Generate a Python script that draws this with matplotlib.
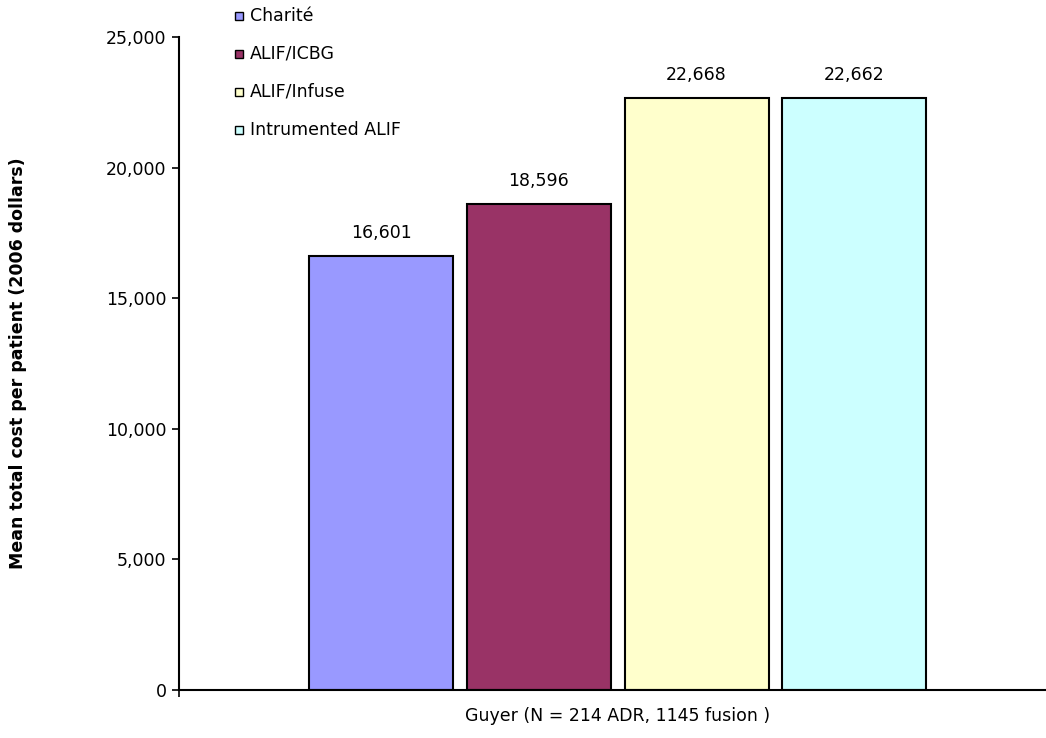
import numpy as np
import matplotlib
matplotlib.use("Agg")
import matplotlib.pyplot as plt
from matplotlib.patches import Rectangle
from matplotlib.ticker import FuncFormatter

plt.rcParams['font.family'] = ['DejaVu Sans']

series = ["Charité", "ALIF/ICBG", "ALIF/Infuse", "Intrumented ALIF"]
costs = [16601, 18596, 22668, 22662]
category = "Guyer (N = 214 ADR, 1145 fusion )"
colors_ = ["#9999FF", "#993366", "#FFFFCC", "#CCFFFF"]
y_ticks = [0, 5000, 10000, 15000, 20000, 25000]

W, H = 1046, 738
FS = 12.5


def px(x, y):
    # pixel position (from top-left) -> figure fraction
    return x / W, 1 - y / H


fig = plt.figure(figsize=(W / 100, H / 100), dpi=100)
ax = fig.add_axes([179 / W, 1 - 690 / H, (W - 179) / W, (690 - 37) / H])

width = 0.166
step = 0.182
offsets = (np.arange(len(series)) - (len(series) - 1) / 2) * step
for off, val, name, col in zip(offsets, costs, series, colors_):
    ax.bar(off, val, width=width, color=col, edgecolor="black",
           linewidth=1.5, label=name, zorder=2)
    ax.annotate(f"{val:,}", (off, val), xytext=(0, 10), textcoords="offset points",
                ha="center", va="bottom", fontsize=FS)

ax.set_xlim(-0.506, 0.494)
ax.set_ylim(0, 25000)
ax.set_yticks(y_ticks)
ax.yaxis.set_major_formatter(FuncFormatter(lambda v, p: f"{int(v):,}"))
ax.tick_params(axis="y", labelsize=FS, length=5, width=1.2, pad=4)
ax.set_xticks([0])
ax.set_xticklabels([category], fontsize=FS)
ax.tick_params(axis="x", length=0, pad=12)
ax.set_xticks([-0.506], minor=True)
ax.tick_params(axis="x", which="minor", length=5, width=1.2)
for s in ["top", "right"]:
    ax.spines[s].set_visible(False)
ax.spines["left"].set_linewidth(1.5)
ax.spines["bottom"].set_linewidth(1.5)

fig.text(*px(18, 363), "Mean total cost per patient (2006 dollars)",
         rotation=90, ha="center", va="center", fontsize=FS, fontweight="bold")

# legend drawn by hand, top-left above the plot
for i, (name, col) in enumerate(zip(series, colors_)):
    yc = 16 + i * 38
    x0, y0 = px(235, yc + 4)
    fig.add_artist(Rectangle((x0, y0), 8 / W, 8 / H, transform=fig.transFigure,
                             facecolor=col, edgecolor="black", linewidth=1.0))
    fig.text(*px(250, yc), name, ha="left", va="center", fontsize=FS)

fig.savefig("out.png", dpi=100)
